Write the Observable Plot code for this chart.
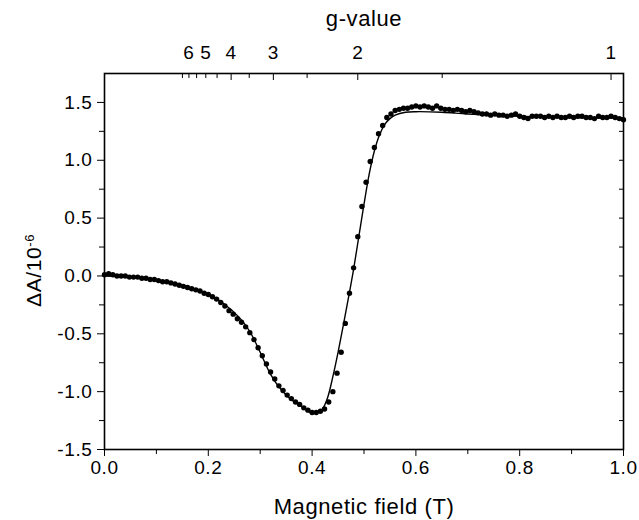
<!DOCTYPE html>
<html><head><meta charset="utf-8">
<script src="https://cdn.jsdelivr.net/npm/d3@7"></script>
<script src="https://cdn.jsdelivr.net/npm/@observablehq/plot@0.6"></script>
<style>
html,body{margin:0;padding:0;background:#fff;}
</style></head><body><div id="chart"></div>
<script>
// Measured points: magnetic field (T) and ΔA / 10^-6
const fieldT = [
0.000,0.008,0.016,0.024,0.032,0.040,0.048,0.056,0.064,0.072,
0.080,0.088,0.096,0.104,0.112,0.120,0.128,0.136,0.144,0.152,
0.160,0.168,0.176,0.184,0.192,0.200,0.208,0.216,0.224,0.232,
0.240,0.248,0.256,0.264,0.272,0.280,0.288,0.296,0.304,0.312,
0.320,0.328,0.336,0.344,0.352,0.360,0.368,0.376,0.384,0.392,
0.400,0.408,0.416,0.424,0.432,0.440,0.448,0.456,0.464,0.472,
0.480,0.488,0.496,0.504,0.512,0.520,0.528,0.536,0.544,0.552,
0.560,0.568,0.576,0.584,0.592,0.600,0.608,0.616,0.624,0.632,
0.640,0.648,0.656,0.664,0.672,0.680,0.688,0.696,0.704,0.712,
0.720,0.728,0.736,0.744,0.752,0.760,0.768,0.776,0.784,0.792,
0.800,0.808,0.816,0.824,0.832,0.840,0.848,0.856,0.864,0.872,
0.880,0.888,0.896,0.904,0.912,0.920,0.928,0.936,0.944,0.952,
0.960,0.968,0.976,0.984,0.992,1.000];
const deltaA = [
0.01,0.02,0.01,0.00,0.00,0.00,-0.01,-0.01,-0.01,-0.02,
-0.02,-0.03,-0.03,-0.04,-0.05,-0.05,-0.06,-0.07,-0.08,-0.09,
-0.10,-0.11,-0.12,-0.13,-0.15,-0.16,-0.18,-0.20,-0.23,-0.26,
-0.30,-0.33,-0.37,-0.40,-0.44,-0.49,-0.55,-0.62,-0.69,-0.76,
-0.83,-0.89,-0.95,-0.99,-1.03,-1.06,-1.09,-1.11,-1.14,-1.16,
-1.18,-1.18,-1.17,-1.15,-1.09,-1.00,-0.84,-0.66,-0.41,-0.15,
0.07,0.34,0.60,0.81,0.99,1.11,1.23,1.30,1.37,1.40,
1.43,1.44,1.45,1.45,1.46,1.47,1.46,1.47,1.46,1.45,
1.47,1.45,1.44,1.44,1.43,1.44,1.43,1.42,1.43,1.42,
1.41,1.40,1.40,1.39,1.40,1.39,1.39,1.38,1.39,1.40,
1.38,1.37,1.36,1.38,1.38,1.38,1.37,1.38,1.37,1.38,
1.37,1.37,1.38,1.37,1.38,1.38,1.37,1.37,1.36,1.38,
1.37,1.37,1.38,1.37,1.36,1.35];
// Fitted curve
const fitField = [0,0.05,0.10,0.15,0.20,0.23,0.26,0.28,0.30,0.32,0.34,0.36,0.38,0.40,0.415,0.42,0.43,0.44,0.45,0.46,0.47,0.48,0.49,0.50,0.51,0.52,0.53,0.54,0.55,0.56,0.58,0.60,0.65,0.70,0.80,0.90,1.00];
const fitDeltaA = [0.00,-0.01,-0.04,-0.08,-0.16,-0.24,-0.36,-0.48,-0.66,-0.85,-0.98,-1.07,-1.13,-1.185,-1.17,-1.15,-1.05,-0.87,-0.66,-0.43,-0.19,0.06,0.34,0.62,0.88,1.08,1.22,1.31,1.36,1.39,1.415,1.42,1.415,1.40,1.38,1.37,1.365];
// Axis ticks and labels
const xMajorTicks = [0,0.2,0.4,0.6,0.8,1.0];
const xMinorTicks = [0.1,0.3,0.5,0.7,0.9];
const yMajorTicks = [-1.5,-1.0,-0.5,0,0.5,1.0,1.5];
const yMinorTicks = [-1.25,-0.75,-0.25,0.25,0.75,1.25];
const gLabels = [1,2,3,4,5,6];
const gMajor = [1,2,3,4];
const gMinor = [1.5,2.5,3.5,4.5,5,5.5,6,6.5];
const gField = 0.976; // field (T) corresponding to g = 1
const xTitle = "Magnetic field (T)";
const topTitle = "g-value";
const yTitleMain = "ΔA/10";
const yTitleSup = "-6";

const points = fieldT.map((x, i) => ({x, y: deltaA[i]}));
const fit = fitField.map((x, i) => ({x, y: fitDeltaA[i]}));
const toB = g => gField / g;
const fmt = d => d.toFixed(1);
const blank = () => "";
const yTitle = yTitleMain + yTitleSup;

const chart = Plot.plot({
  width: 639, height: 520,
  marginLeft: 104, marginRight: 16, marginTop: 73, marginBottom: 71,
  style: {fontFamily: "'Liberation Sans', Arial, sans-serif", fontSize: "19px", color: "#000", background: "#fff", letterSpacing: "0.6px"},
  x: {domain: [0, 1]},
  y: {domain: [-1.5, 1.75]},
  marks: [
    Plot.frame({stroke: "#000", strokeWidth: 1.6}),
    Plot.line(fit, {x: "x", y: "y", stroke: "#000", strokeWidth: 1.4, curve: "catmull-rom"}),
    Plot.dot(points, {x: "x", y: "y", r: 2.7, fill: "#000", stroke: "none"}),
    Plot.axisX(xMajorTicks, {anchor: "bottom", tickSize: 7, tickPadding: 4, tickFormat: fmt, label: null}),
    Plot.axisX(xMinorTicks, {anchor: "bottom", tickSize: 5, tickFormat: blank, label: null}),
    Plot.axisY(yMajorTicks, {anchor: "left", tickSize: 7, tickPadding: 5, tickFormat: fmt, label: null}),
    Plot.axisY(yMinorTicks, {anchor: "left", tickSize: 5, tickFormat: blank, label: null}),
    Plot.axisY([...yMajorTicks, ...yMinorTicks], {anchor: "right", tickSize: -5, tickFormat: blank, label: null}),
    Plot.axisX(gLabels.map(toB), {anchor: "top", tickSize: 0, tickPadding: 15, tickFormat: b => String(Math.round(gField / b)), label: null}),
    Plot.axisX(gMajor.map(toB), {anchor: "top", tickSize: -6, tickFormat: blank, label: null}),
    Plot.axisX(gMinor.map(toB), {anchor: "top", tickSize: -4, tickFormat: blank, label: null}),
    Plot.text([xTitle], {text: d => d, frameAnchor: "bottom", dy: 64, fontSize: 22, lineAnchor: "bottom", letterSpacing: 0}),
    Plot.text([topTitle], {text: d => d, frameAnchor: "top", dy: -48, fontSize: 22, lineAnchor: "bottom", letterSpacing: 0}),
    Plot.text([yTitle], {text: d => d, frameAnchor: "left", rotate: -90, dx: -64, dy: 9, fontSize: 21, textAnchor: "middle", lineAnchor: "bottom"})
  ]
});
document.getElementById("chart").appendChild(chart);
// superscript exponent on the y title
d3.select(chart).selectAll("text").filter(function() { return this.textContent === yTitle; }).each(function() {
  const t = d3.select(this);
  t.text(null);
  t.append("tspan").text(yTitleMain);
  t.append("tspan").attr("dy", "-0.5em").attr("font-size", "0.62em").text(yTitleSup);
});
</script>
</body></html>
